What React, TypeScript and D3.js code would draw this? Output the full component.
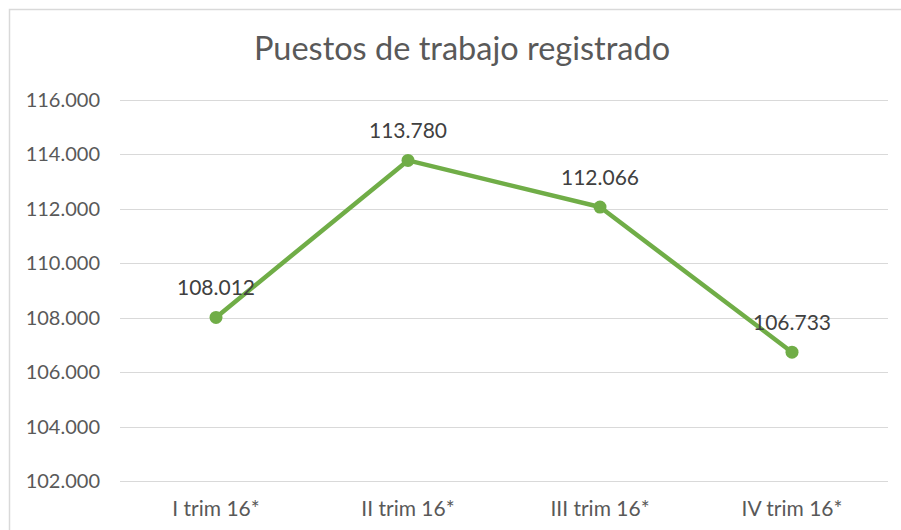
import React, { useEffect, useRef } from "react";
import * as d3 from "d3";

const CATEGORIES = ["I trim 16*", "II trim 16*", "III trim 16*", "IV trim 16*"];
const VALUES = [108012, 113780, 112066, 106733];
const Y_TICKS = [102000, 104000, 106000, 108000, 110000, 112000, 114000, 116000];
const TITLE = "Puestos de trabajo registrado";

const W = 901;
const H = 530;
const FONT = "Lato, 'Open Sans', sans-serif";

const fmt = (v: number) => d3.format(",")(v).replace(/,/g, ".");

export default function App() {
  const ref = useRef<SVGSVGElement>(null);

  useEffect(() => {
    if (!ref.current) return;
    const svg = d3.select(ref.current);
    svg.selectAll("*").remove();

    const margin = { top: 100, right: 13, bottom: 49, left: 120 };
    const width = W - margin.left - margin.right;
    const height = H - margin.top - margin.bottom;

    // chart border (partly cropped)
    svg
      .append("rect")
      .attr("x", 9.5)
      .attr("y", 9.5)
      .attr("width", W + 20)
      .attr("height", H + 20)
      .attr("fill", "#fff")
      .attr("stroke", "#d9d9d9")
      .attr("stroke-width", 1.5);

    svg
      .append("text")
      .attr("x", 462)
      .attr("y", 60)
      .attr("text-anchor", "middle")
      .attr("font-family", FONT)
      .attr("font-size", 32.5)
      .attr("fill", "#595959")
      .text(TITLE);

    const g = svg
      .append("g")
      .attr("transform", "translate(" + margin.left + "," + margin.top + ")");

    const x = d3.scaleBand().domain(CATEGORIES).range([0, width]);
    const y = d3.scaleLinear().domain([102000, 116000]).range([height, 0]);

    // gridlines
    g.selectAll(".grid")
      .data(Y_TICKS)
      .enter()
      .append("line")
      .attr("x1", 0)
      .attr("x2", width)
      .attr("y1", (d) => Math.round(y(d)) + 0.5)
      .attr("y2", (d) => Math.round(y(d)) + 0.5)
      .attr("stroke", "#d9d9d9")
      .attr("stroke-width", 1);

    // y labels
    g.selectAll(".ylab")
      .data(Y_TICKS)
      .enter()
      .append("text")
      .attr("x", -20)
      .attr("y", (d) => y(d) + 7)
      .attr("text-anchor", "end")
      .attr("font-family", FONT)
      .attr("font-size", 20)
      .attr("fill", "#595959")
      .text((d) => fmt(d));

    // x labels
    g.selectAll(".xlab")
      .data(CATEGORIES)
      .enter()
      .append("text")
      .attr("x", (d) => x(d)! + x.bandwidth() / 2)
      .attr("y", height + 35)
      .attr("text-anchor", "middle")
      .attr("font-family", FONT)
      .attr("font-size", 21)
      .attr("fill", "#595959")
      .text((d) => d);

    const pts = CATEGORIES.map((c, i) => ({ c, v: VALUES[i] }));
    const line = d3
      .line<{ c: string; v: number }>()
      .x((d) => x(d.c)! + x.bandwidth() / 2)
      .y((d) => y(d.v));

    g.append("path")
      .datum(pts)
      .attr("d", line)
      .attr("fill", "none")
      .attr("stroke", "#70ad47")
      .attr("stroke-width", 4.5)
      .attr("stroke-linejoin", "round");

    g.selectAll(".dot")
      .data(pts)
      .enter()
      .append("circle")
      .attr("cx", (d) => x(d.c)! + x.bandwidth() / 2)
      .attr("cy", (d) => y(d.v))
      .attr("r", 6.5)
      .attr("fill", "#70ad47");

    g.selectAll(".vlab")
      .data(pts)
      .enter()
      .append("text")
      .attr("x", (d) => x(d.c)! + x.bandwidth() / 2)
      .attr("y", (d) => y(d.v) - 22)
      .attr("text-anchor", "middle")
      .attr("font-family", FONT)
      .attr("font-size", 21)
      .attr("fill", "#404040")
      .text((d) => fmt(d.v));
  }, []);

  return (
    <svg
      ref={ref}
      width={W}
      height={H}
      style={{ position: "absolute", left: 0, top: 0, background: "#fff" }}
    ></svg>
  );
}
